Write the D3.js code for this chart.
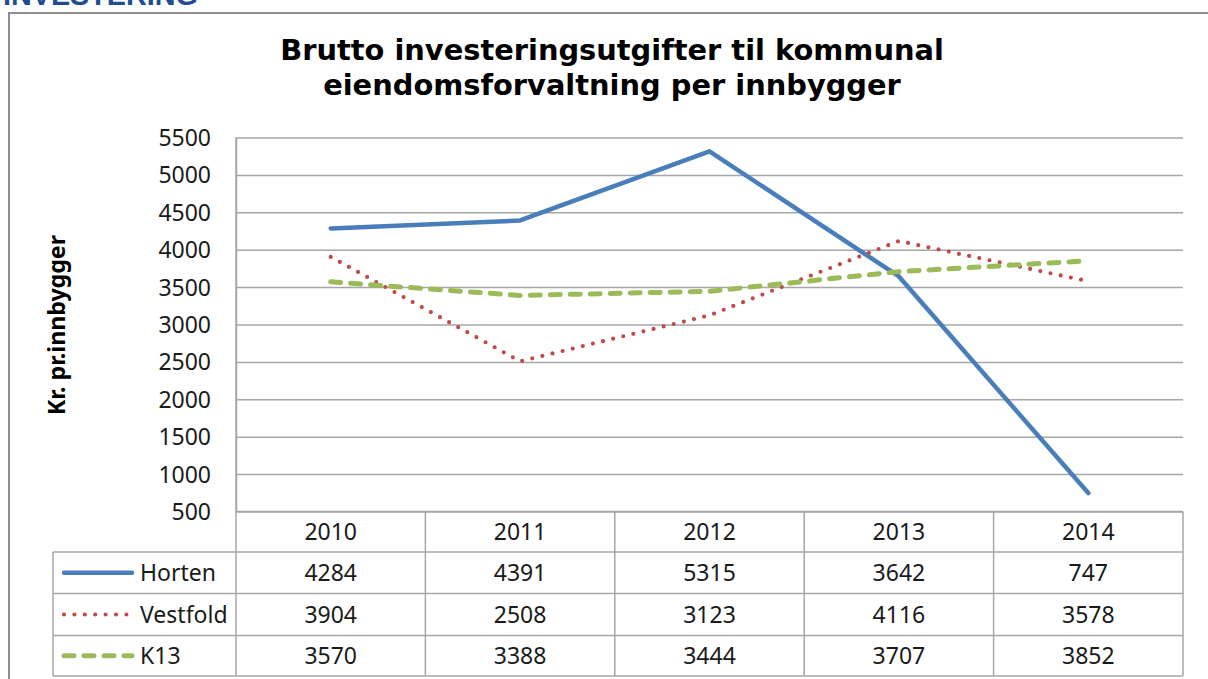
<!DOCTYPE html>
<html>
<head>
<meta charset="utf-8">
<script src="https://cdn.jsdelivr.net/npm/d3@7/dist/d3.min.js"></script>
<style>
  html, body { margin: 0; padding: 0; background: #fff; }
  svg { display: block; }
</style>
</head>
<body>
<svg id="chart" width="1208" height="679"></svg>
<script>
const years = ["2010", "2011", "2012", "2013", "2014"];
const horten = [4284, 4391, 5315, 3642, 747];
const vestfold = [3904, 2508, 3123, 4116, 3578];
const k13 = [3570, 3388, 3444, 3707, 3852];
const seriesNames = ["Horten", "Vestfold", "K13"];
const yTicks = [500, 1000, 1500, 2000, 2500, 3000, 3500, 4000, 4500, 5000, 5500];
const titleLines = ["Brutto investeringsutgifter til kommunal", "eiendomsforvaltning per innbygger"];
const yAxisTitle = "Kr. pr.innbygger";
const sectionHeading = "INVESTERING";

const seriesValues = [horten, vestfold, k13];
const seriesStyles = [
  { color: "#4A7EBB", width: 4.5, dash: null, cap: "round" },
  { color: "#BE4B48", width: 4.2, dash: "0,10.4", cap: "round" },
  { color: "#9BBB59", width: 5, dash: "10,10", cap: "round" }
];

const svg = d3.select("#chart");
const numFont = "'Noto Sans', 'Open Sans', sans-serif";
const gridColor = "#a6a6a6";

const plot = { left: 236, right: 1183, top: 137.5, bottom: 511.5 };
const table = { left: 53, rowEdges: [511.5, 552, 593.5, 635.5, 676] };

// fit a text element's font size to a target width
function fitWidth(sel, target, base) {
  const w = sel.node().getComputedTextLength();
  if (w > 0) sel.attr("font-size", base * target / w);
}

// section heading, cut off at the top (as in the reference)
const head = svg.append("text")
  .attr("x", 3).attr("y", 5)
  .attr("font-family", "'Liberation Sans', Arial, sans-serif")
  .attr("font-weight", "bold").attr("font-size", 25)
  .attr("fill", "#1F4E8C")
  .text(sectionHeading);
fitWidth(head, 195, 25);

// outer chart frame (extends past right/bottom edges)
svg.append("path")
  .attr("d", "M 1215 13 L 9 13 L 9 690")
  .attr("fill", "none").attr("stroke", "#8e8e8e").attr("stroke-width", 2);

// title
const title = svg.append("text")
  .attr("text-anchor", "middle")
  .attr("font-family", "'DejaVu Sans', Verdana, sans-serif")
  .attr("font-weight", "bold").attr("font-size", 23)
  .attr("fill", "#000");
const tsp = title.selectAll("tspan").data(titleLines).join("tspan")
  .attr("x", 612).attr("y", (d, i) => 59.5 + i * 35)
  .text(d => d);
{
  const w = tsp.nodes()[0].getComputedTextLength();
  if (w > 0) title.attr("font-size", 23 * 664 / w);
}

// scales
const x = d3.scaleBand().domain(years).range([plot.left, plot.right]).padding(0);
const y = d3.scaleLinear().domain([500, 5500]).range([plot.bottom, plot.top]);
const cx = d => x(d) + x.bandwidth() / 2;

// y axis with gridlines
const yAxis = svg.append("g")
  .attr("transform", `translate(${plot.left},0)`)
  .call(d3.axisLeft(y).tickValues(yTicks).tickFormat(d3.format("d"))
    .tickSize(-(plot.right - plot.left)).tickSizeOuter(0).tickPadding(25));
yAxis.select(".domain").attr("stroke", gridColor).attr("stroke-width", 1.5);
yAxis.selectAll(".tick line").attr("stroke", gridColor).attr("stroke-width", 1.5);
yAxis.selectAll(".tick text")
  .attr("font-family", numFont).attr("font-size", 23).attr("fill", "#1a1a1a")
  .attr("dy", "0.35em");

// y axis title
const yt = svg.append("text")
  .attr("transform", "translate(65,325) rotate(-90)")
  .attr("text-anchor", "middle")
  .attr("font-family", "'Noto Sans', 'Open Sans', sans-serif")
  .attr("font-weight", "bold").attr("font-size", 20)
  .attr("fill", "#000")
  .text(yAxisTitle);
fitWidth(yt, 180, 20);

// table grid
const tg = svg.append("g").attr("stroke", gridColor).attr("stroke-width", 1.5);
const rows = table.rowEdges;
tg.append("line").attr("x1", plot.left).attr("x2", plot.right).attr("y1", rows[0]).attr("y2", rows[0]);
rows.slice(1).forEach(r => {
  tg.append("line").attr("x1", table.left).attr("x2", plot.right).attr("y1", r).attr("y2", r);
});
tg.append("line").attr("x1", plot.left).attr("x2", plot.left).attr("y1", plot.top).attr("y2", rows[4]);
years.forEach(yr => {
  const xr = x(yr) + x.bandwidth();
  tg.append("line").attr("x1", xr).attr("x2", xr).attr("y1", rows[0]).attr("y2", rows[4]);
});
tg.append("line").attr("x1", table.left).attr("x2", table.left).attr("y1", rows[1]).attr("y2", rows[4]);

const rowMid = i => (rows[i] + rows[i + 1]) / 2;

// header years
svg.append("g").selectAll("text").data(years).join("text")
  .attr("x", d => cx(d)).attr("y", rowMid(0) + 8.5)
  .attr("text-anchor", "middle")
  .attr("font-family", numFont).attr("font-size", 23).attr("fill", "#1a1a1a")
  .text(d => d);

// data rows with legend keys
seriesValues.forEach((vals, si) => {
  const g = svg.append("g");
  g.selectAll("text").data(vals).join("text")
    .attr("x", (d, i) => cx(years[i])).attr("y", rowMid(si + 1) + 8.5)
    .attr("text-anchor", "middle")
    .attr("font-family", numFont).attr("font-size", 23).attr("fill", "#1a1a1a")
    .text(d => d);
  const st = seriesStyles[si];
  g.append("line")
    .attr("x1", 64).attr("x2", 132).attr("y1", rowMid(si + 1)).attr("y2", rowMid(si + 1))
    .attr("stroke", st.color).attr("stroke-width", st.width)
    .attr("stroke-linecap", st.cap)
    .attr("stroke-dasharray", st.dash);
  g.append("text")
    .attr("x", 140).attr("y", rowMid(si + 1) + 8.5)
    .attr("font-family", numFont).attr("font-size", 23).attr("fill", "#1a1a1a")
    .text(seriesNames[si]);
});

// series lines
const line = d3.line().x((d, i) => cx(years[i])).y(d => y(d));
seriesValues.forEach((vals, si) => {
  const st = seriesStyles[si];
  svg.append("path")
    .datum(vals)
    .attr("d", line)
    .attr("fill", "none")
    .attr("stroke", st.color).attr("stroke-width", st.width)
    .attr("stroke-linecap", st.cap).attr("stroke-linejoin", "round")
    .attr("stroke-dasharray", st.dash);
});
</script>
</body>
</html>
